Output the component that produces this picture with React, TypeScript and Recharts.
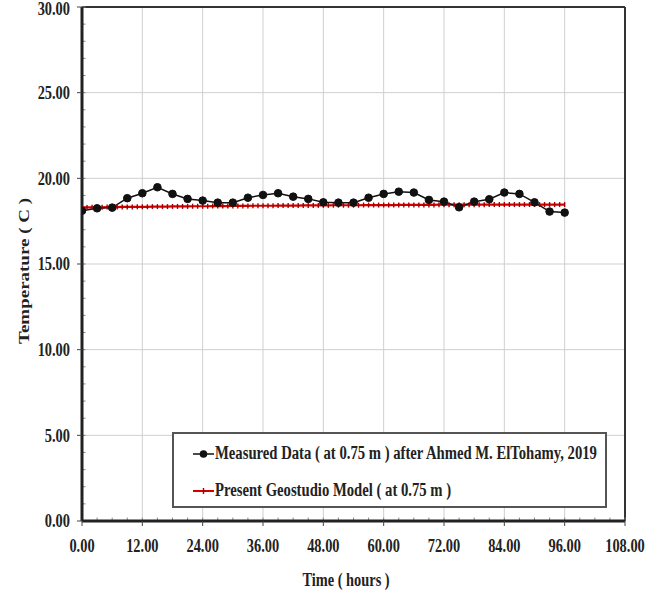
import React from 'react';
import { LineChart, Line, XAxis, YAxis, CartesianGrid, ReferenceLine } from 'recharts';

const xTicks = [0, 12, 24, 36, 48, 60, 72, 84, 96, 108];
const yTicks = [0, 5, 10, 15, 20, 25, 30];
const xMinorTicks = [0, 3, 6, 9, 12, 15, 18, 21, 24, 27, 30, 33, 36, 39, 42, 45, 48, 51, 54, 57, 60, 63, 66, 69, 72, 75, 78, 81, 84, 87, 90, 93, 96, 99, 102, 105, 108];
const yMinorTicks = [0, 1, 2, 3, 4, 5, 6, 7, 8, 9, 10, 11, 12, 13, 14, 15, 16, 17, 18, 19, 20, 21, 22, 23, 24, 25, 26, 27, 28, 29, 30];

const measuredTimes = [0, 3, 6, 9, 12, 15, 18, 21, 24, 27, 30, 33, 36, 39, 42, 45, 48, 51, 54, 57, 60, 63, 66, 69, 72, 75, 78, 81, 84, 87, 90, 93, 96];
const measuredTemps = [18.11, 18.25, 18.29, 18.84, 19.13, 19.48, 19.09, 18.8, 18.7, 18.58, 18.58, 18.87, 19.03, 19.13, 18.93, 18.8, 18.6, 18.58, 18.58, 18.87, 19.09, 19.22, 19.17, 18.74, 18.64, 18.31, 18.64, 18.78, 19.17, 19.09, 18.6, 18.06, 18.0];

const modelTimes = [
  0, 1, 2, 3, 4, 5, 6, 7, 8, 9, 10, 11, 12, 13, 14, 15, 16, 17, 18, 19, 20, 21, 22, 23, 24,
  25, 26, 27, 28, 29, 30, 31, 32, 33, 34, 35, 36, 37, 38, 39, 40, 41, 42, 43, 44, 45, 46, 47, 48,
  49, 50, 51, 52, 53, 54, 55, 56, 57, 58, 59, 60, 61, 62, 63, 64, 65, 66, 67, 68, 69, 70, 71, 72,
  73, 74, 75, 76, 77, 78, 79, 80, 81, 82, 83, 84, 85, 86, 87, 88, 89, 90, 91, 92, 93, 94, 95, 96,
];
const modelTemps = [
  18.30, 18.30, 18.31, 18.31, 18.31, 18.32, 18.32, 18.32, 18.33, 18.33, 18.33, 18.34,
  18.34, 18.34, 18.35, 18.35, 18.35, 18.35, 18.36, 18.36, 18.36, 18.36, 18.37, 18.37,
  18.37, 18.37, 18.38, 18.38, 18.38, 18.38, 18.39, 18.39, 18.39, 18.39, 18.40, 18.40,
  18.40, 18.40, 18.40, 18.41, 18.41, 18.41, 18.41, 18.41, 18.42, 18.42, 18.42, 18.42,
  18.42, 18.42, 18.43, 18.43, 18.43, 18.43, 18.43, 18.43, 18.44, 18.44, 18.44, 18.44,
  18.44, 18.44, 18.44, 18.45, 18.45, 18.45, 18.45, 18.45, 18.45, 18.45, 18.45, 18.46,
  18.46, 18.46, 18.46, 18.46, 18.46, 18.46, 18.46, 18.46, 18.46, 18.47, 18.47, 18.47,
  18.47, 18.47, 18.47, 18.47, 18.47, 18.47, 18.47, 18.47, 18.47, 18.47, 18.47, 18.47,
  18.47,
];

const measuredData = measuredTimes.map((t, i) => ({ t, v: measuredTemps[i] }));
const modelData = modelTimes.map((t, i) => ({ t, v: modelTemps[i] }));

const FONT = "'Liberation Serif', 'Times New Roman', serif";
const SQ = 0.8;

const XTick = (props: any) => {
  const { x, y, payload } = props;
  return (
    <g transform={`translate(${x},${y})`}>
      <text transform={`scale(${SQ},1)`} x={0} y={0} dy="0.72em" textAnchor="middle" fill="#222"
        style={{ fontSize: 18, fontWeight: 700, fontFamily: FONT }}>
        {Number(payload.value).toFixed(2)}
      </text>
    </g>
  );
};

const YTick = (props: any) => {
  const { x, y, payload, index } = props;
  const shift = index === yTicks.length - 1 ? 2 : 0;
  return (
    <g transform={`translate(${x},${y + shift})`}>
      <text transform={`scale(${SQ},1)`} x={0} y={0} dy="0.36em" textAnchor="end" fill="#222"
        style={{ fontSize: 18, fontWeight: 700, fontFamily: FONT }}>
        {Number(payload.value).toFixed(2)}
      </text>
    </g>
  );
};

const RedDash = (props: any) => {
  const { cx, cy, index } = props;
  if (cx == null || cy == null) return <g key={`d${index}`} />;
  return <line key={`d${index}`} x1={cx} y1={cy - 2.5} x2={cx} y2={cy + 2.5} stroke="#a00000" strokeWidth={1.4} />;
};

export default function App() {
  return (
    <div style={{ position: 'absolute', left: 0, top: 0, width: 661, height: 596, background: '#fff' }}>
      <LineChart width={661} height={596} margin={{ top: 7, right: 36, bottom: 30, left: 20 }}>
        <CartesianGrid stroke="#cfcfcf" strokeWidth={1} />
        <XAxis
          type="number"
          dataKey="t"
          domain={[0, 108]}
          ticks={xTicks}
          interval={0}
          tick={<XTick />}
          tickSize={5}
          tickMargin={13}
          height={45}
          axisLine={{ stroke: '#222', strokeWidth: 3 }}
          tickLine={{ stroke: '#444' }}
          allowDataOverflow
          label={{
            content: () => (
              <g transform="translate(346,586)">
                <text transform={`scale(${SQ},1)`} textAnchor="middle" style={{ fontSize: 18, fontWeight: 700, fontFamily: FONT }} fill="#222">
                  Time ( hours )
                </text>
              </g>
            ),
          }}
        />
        <YAxis
          type="number"
          domain={[0, 30]}
          ticks={yTicks}
          interval={0}
          tick={<YTick />}
          tickSize={5}
          tickMargin={7}
          width={62}
          axisLine={{ stroke: '#222', strokeWidth: 3 }}
          tickLine={{ stroke: '#444' }}
          allowDataOverflow
          label={{
            content: () => (
              <g transform={`translate(24,271) scale(${SQ},1) rotate(-90)`}>
                <text
                  x={0}
                  y={0}
                  textAnchor="middle"
                  dominantBaseline="central"
                  style={{ fontSize: 19, fontWeight: 700, fontFamily: FONT }}
                  fill="#222"
                >
                  Temperature ( C )
                </text>
              </g>
            ),
          }}
        />
        <ReferenceLine y={30} stroke="#333" strokeWidth={2} ifOverflow="extendDomain" />
        <ReferenceLine x={108} stroke="#333" strokeWidth={2} ifOverflow="extendDomain" />
        {yMinorTicks.map((v) => (
          <ReferenceLine key={`ym${v}`} segment={[{ x: 0, y: v }, { x: 0.7, y: v }]} stroke="#888" strokeWidth={1} />
        ))}
        {xMinorTicks.map((v) => (
          <ReferenceLine key={`xm${v}`} segment={[{ x: v, y: 0 }, { x: v, y: 0.2 }]} stroke="#888" strokeWidth={1} />
        ))}
        <Line
          data={modelData}
          dataKey="v"
          type="linear"
          stroke="#d40000"
          strokeWidth={2.2}
          dot={RedDash}
          isAnimationActive={false}
        />
        <Line
          data={measuredData}
          dataKey="v"
          type="linear"
          stroke="#111"
          strokeWidth={1.5}
          dot={{ r: 3.8, fill: '#111', stroke: '#111', strokeWidth: 1 }}
          isAnimationActive={false}
        />
      </LineChart>
      <div
        style={{
          position: 'absolute',
          left: 172,
          top: 432,
          width: 431,
          height: 72,
          border: '2px solid #555',
          background: '#fff',
          fontFamily: FONT,
          fontWeight: 700,
          fontSize: 18,
          color: '#222',
        }}
      >
        <div style={{ position: 'absolute', left: 19, top: 9, display: 'flex', alignItems: 'center', whiteSpace: 'nowrap' }}>
          <svg width={21} height={12} style={{ marginRight: 1 }}>
            <line x1={0} y1={6} x2={21} y2={6} stroke="#111" strokeWidth={1.5} />
            <circle cx={10.5} cy={6} r={3.8} fill="#111" />
          </svg>
          <span style={{ display: 'inline-block', transform: 'scaleX(0.815)', transformOrigin: 'left center' }}>
            Measured Data ( at 0.75 m ) after Ahmed M. ElTohamy, 2019
          </span>
        </div>
        <div style={{ position: 'absolute', left: 19, top: 46, display: 'flex', alignItems: 'center', whiteSpace: 'nowrap' }}>
          <svg width={21} height={12} style={{ marginRight: 1 }}>
            <line x1={0} y1={6} x2={21} y2={6} stroke="#d40000" strokeWidth={2} />
            <line x1={10.5} y1={3} x2={10.5} y2={9} stroke="#a00000" strokeWidth={1.4} />
          </svg>
          <span style={{ display: 'inline-block', transform: 'scaleX(0.815)', transformOrigin: 'left center' }}>
            Present Geostudio Model ( at 0.75 m )
          </span>
        </div>
      </div>
    </div>
  );
}
